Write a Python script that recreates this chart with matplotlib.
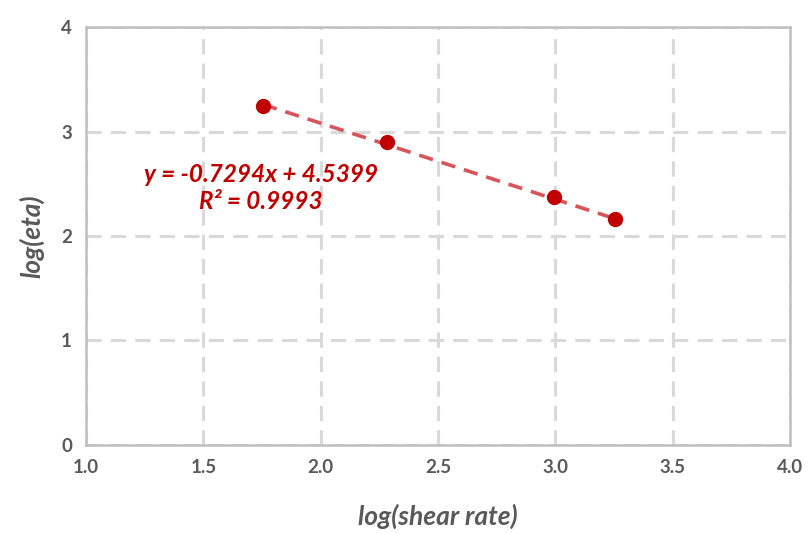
import matplotlib.pyplot as plt
import numpy as np

# measured points (log10 of shear rate vs log10 of viscosity)
log_shear = [1.754, 2.282, 2.994, 3.254]
log_eta = [3.25, 2.90, 2.37, 2.16]

# linear fit reported on the chart
slope = -0.7294
intercept = 4.5399
r_squared = 0.9993

x_ticks = [1.0, 1.5, 2.0, 2.5, 3.0, 3.5, 4.0]
y_ticks = [0, 1, 2, 3, 4]

plt.rcParams['font.family'] = ['Lato', 'DejaVu Sans']

fig = plt.figure(figsize=(8.11, 5.34), dpi=100)
ax = fig.add_axes([0.106, 0.167, 0.868, 0.782])

ax.set_xlim(1.0, 4.0)
ax.set_ylim(0, 4)
ax.set_xticks(x_ticks)
ax.set_yticks(y_ticks)
ax.set_xticklabels(["%.1f" % t for t in x_ticks])
ax.set_yticklabels([str(t) for t in y_ticks])
ax.tick_params(length=0, labelsize=13.5, labelcolor='#595959', pad=10)
for lab in ax.get_xticklabels() + ax.get_yticklabels():
	lab.set_fontweight('bold')

ax.grid(True, color='#D9D9D9', linestyle=(0, (5, 3)), linewidth=2.2)
ax.set_axisbelow(True)
for s in ax.spines.values():
	s.set_color('#BFBFBF')
	s.set_linewidth(1.8)

# trend line over the data range
xs = np.array([min(log_shear), max(log_shear)])
ax.plot(xs, slope * xs + intercept, color='#D6555A', linestyle=(0, (4, 2.5)), linewidth=2.6, zorder=3)
ax.plot(log_shear, log_eta, 'o', color='#C00000', markersize=10, zorder=4)

eq = "y = %.4fx + %.4f\nR² = %.4f" % (slope, intercept, r_squared)
ax.text(1.746, 2.46, eq, ha='center', va='center', color='#C00000', fontsize=17.5,
	fontweight='bold', fontstyle='italic', linespacing=1.25)

ax.set_xlabel("log(shear rate)", fontsize=19, fontweight='bold', fontstyle='italic', color='#595959', labelpad=20)
ax.set_ylabel("log(eta)", fontsize=19, fontweight='bold', fontstyle='italic', color='#595959', labelpad=12)

plt.savefig("out.png", dpi=100)
